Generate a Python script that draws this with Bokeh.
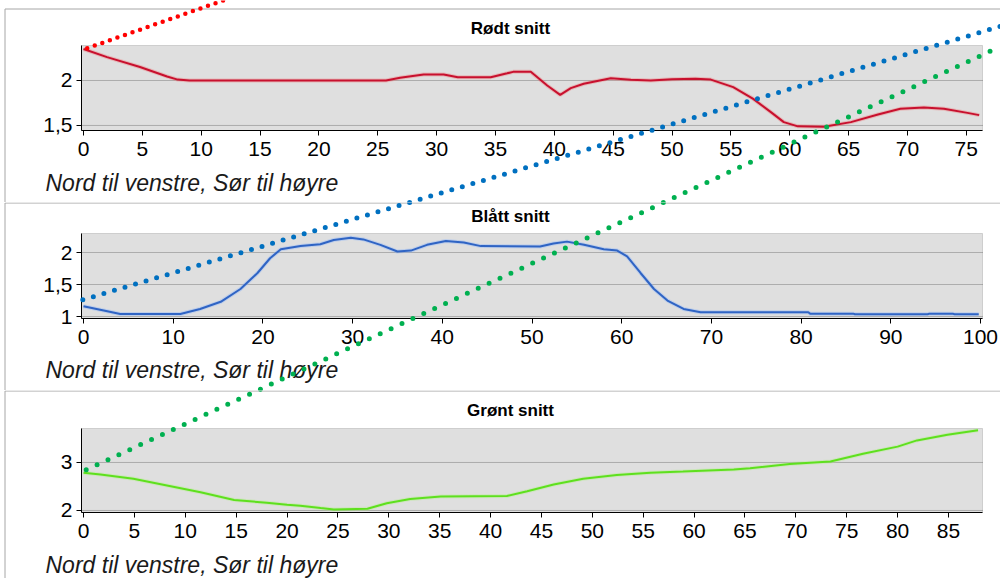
from bokeh.plotting import figure
from bokeh.layouts import column
from bokeh.models import Label, Arrow, FixedTicker, Range1d, BoxAnnotation
from bokeh.embed import file_html
from bokeh.resources import INLINE

# ---------------- data ----------------
red_x = [0, 2.0, 4.8, 7.1, 8.0, 9.0, 25.7, 26.9, 28.9, 30.6, 31.8, 34.6, 36.0, 36.5, 38.0,
         39.4, 40.5, 41.4, 42.5, 44.8, 46.5, 48.2, 50.0, 52.0, 53.3, 55.2, 56.9, 58.4, 59.5,
         60.7, 62.9, 65.2, 67.5, 69.4, 71.4, 73.1, 75.1, 76.1]
red_y = [2.35, 2.26, 2.15, 2.045, 2.01, 2.0, 2.0, 2.03, 2.067, 2.067, 2.037, 2.037, 2.08, 2.096, 2.096,
         1.944, 1.84, 1.915, 1.963, 2.026, 2.008, 2.0, 2.015, 2.02, 2.01, 1.926, 1.796, 1.648, 1.537,
         1.49, 1.485, 1.537, 1.622, 1.685, 1.70, 1.685, 1.64, 1.615]

blue_x = [0, 2.26, 4.1, 10.8, 13.0, 15.3, 17.5, 19.4, 20.8, 22.0, 24.2, 26.4, 27.9, 29.8, 31.2,
          33.1, 35.0, 36.5, 38.3, 40.4, 42.4, 44.3, 50.9, 52.4, 53.9, 55.8, 58.0, 59.5, 60.6,
          62.1, 63.6, 65.1, 66.9, 68.8, 80.8, 81.0, 85.8, 86.0, 94.1, 94.3, 96.9, 97.1, 99.8]
blue_y = [1.16, 1.094, 1.04, 1.04, 1.118, 1.23, 1.43, 1.68, 1.91, 2.05, 2.10, 2.13, 2.195, 2.23, 2.205,
          2.12, 2.015, 2.03, 2.12, 2.18, 2.155, 2.10, 2.095, 2.14, 2.17, 2.12, 2.05, 2.03, 1.94,
          1.68, 1.43, 1.25, 1.118, 1.066, 1.066, 1.045, 1.045, 1.035, 1.035, 1.045, 1.045, 1.035, 1.035]

green_x = [0, 1.67, 4.9, 8.2, 11.5, 14.8, 18.0, 20.0, 21.3, 23.3, 24.6, 27.9, 29.8, 32.1, 35.1,
           41.6, 43.6, 46.2, 49.1, 52.4, 55.7, 58.9, 63.9, 65.5, 69.4, 73.4, 76.6, 80.0, 81.9,
           84.9, 87.9]
green_y = [2.785, 2.75, 2.66, 2.52, 2.38, 2.22, 2.16, 2.12, 2.10, 2.05, 2.02, 2.035, 2.15, 2.24, 2.29,
           2.30, 2.40, 2.54, 2.66, 2.74, 2.785, 2.81, 2.854, 2.88, 2.97, 3.02, 3.18, 3.33, 3.46,
           3.58, 3.67]

titles = ["Rødt snitt", "Blått snitt", "Grønt snitt"]
axis_label = "Nord til venstre, Sør til høyre"

x1_ticks = list(range(0, 76, 5))
x2_ticks = list(range(0, 101, 10))
x3_ticks = list(range(0, 86, 5))
y1_ticks = [1.5, 2]
y1_labels = ["1,5", "2"]
y2_ticks = [1, 1.5, 2]
y2_labels = ["1", "1,5", "2"]
y3_ticks = [2, 3]
y3_labels = ["2", "3"]

# axis extents of each panel (x0, x1, y0, y1)
ext1 = (-0.17, 76.38, 1.444, 2.389)
ext2 = (-0.22, 100.22, 0.969, 2.297)
ext3 = (-0.2, 88.34, 1.958, 3.708)

# overlay dotted lines, page pixel coords: (x0, y0, x1, y1)
overlay_red = (86.7, 47.7, 222.6, 0.0)
overlay_blue = (82.3, 299.3, 1000.0, 25.8)
overlay_green = (85.7, 469.3, 1000.0, 46.0)

# ---------------- layout / styling ----------------
FONT = "Liberation Sans"
W = 1000
FIG_TOPS = [0, 202, 390]
FIG_H = [202, 188, 188]
# plot-area pixel boxes inside each figure canvas: (left, top, right, bottom)
BOXES = [(81, 45, 982, 130), (81, 31, 982, 116), (81, 38, 982, 122)]
TITLE_BASE = [28, 14, 20]
LABEL_BASE = [182, 167.5, 174]
BORDER_TOP = [8, 0, 0]


def full_range(box, ext, w, h):
    l, t, r, b = box
    x0, x1, y0, y1 = ext
    sx = (x1 - x0) / (r - l)
    sy = (y1 - y0) / (b - t)
    return (x0 - l * sx, x1 + (w - r) * sx), (y0 - (h - b) * sy, y1 + t * sy)


def panel(idx, xs, ys, color, halo, ext, xticks, yticks, ylabels):
    h = FIG_H[idx]
    top = FIG_TOPS[idx]
    xr, yr = full_range(BOXES[idx], ext, W, h)
    x0, x1, y0, y1 = ext
    p = figure(width=W, height=h, x_range=Range1d(*xr), y_range=Range1d(*yr),
               output_backend="svg", toolbar_location=None,
               min_border_left=0, min_border_right=0,
               min_border_top=0, min_border_bottom=0)
    p.background_fill_color = "white"
    p.border_fill_color = "white"
    p.outline_line_color = None
    p.xgrid.visible = False
    p.ygrid.visible = False

    p.add_layout(BoxAnnotation(left=x0, right=x1, bottom=y0, top=y1,
                               fill_color="#dfdfdf", fill_alpha=1.0,
                               line_color="#808080", line_width=1, level="underlay"))

    p.xaxis.ticker = FixedTicker(ticks=xticks)
    p.yaxis.ticker = FixedTicker(ticks=yticks)
    p.yaxis.major_label_overrides = {t: l for t, l in zip(yticks, ylabels)}
    p.xaxis.fixed_location = y0
    p.xaxis.bounds = (x0, x1)
    p.yaxis.fixed_location = x0
    p.yaxis.bounds = (y0, y1)
    for ax in (p.xaxis[0], p.yaxis[0]):
        ax.axis_line_color = "black"
        ax.major_tick_line_color = "black"
        ax.minor_tick_line_color = None
        ax.major_tick_out = 5
        ax.major_tick_in = 0
        ax.major_label_text_font = FONT
        ax.major_label_text_font_size = "21px"
        ax.major_label_text_color = "black"
    p.xaxis.major_label_standoff = 6
    p.yaxis.major_label_standoff = 4

    # dotted horizontal grid lines at the y ticks
    n = len(yticks)
    p.segment(x0=[x0] * n, y0=yticks, x1=[x1] * n, y1=yticks,
              line_color="#7a7a7a", line_dash="1 1", line_width=1)

    p.line(xs, ys, line_color=halo, line_width=4, line_alpha=0.35)
    p.line(xs, ys, line_color=color, line_width=2)

    p.add_layout(Label(x=510, y=TITLE_BASE[idx], x_units="canvas", y_units="canvas",
                       text=titles[idx], text_align="center", text_baseline="alphabetic",
                       text_font=FONT, text_font_style="bold", text_font_size="17px",
                       text_color="black"))
    p.add_layout(Label(x=45, y=LABEL_BASE[idx], x_units="canvas", y_units="canvas",
                       text=axis_label, text_align="left", text_baseline="alphabetic",
                       text_font=FONT, text_font_style="italic", text_font_size="23px",
                       text_color="#1a1a1a"))

    # panel border lines
    bt = BORDER_TOP[idx] + 0.5
    p.add_layout(Arrow(end=None, x_start=4.5, y_start=bt, x_end=W, y_end=bt,
                       start_units="canvas", end_units="canvas",
                       line_color="#a6a6a6", line_width=1))
    p.add_layout(Arrow(end=None, x_start=4.5, y_start=bt, x_end=4.5, y_end=h,
                       start_units="canvas", end_units="canvas",
                       line_color="#a6a6a6", line_width=1))

    for (ax0, ay0, ax1, ay1), c, lw, gap in ((overlay_red, "#ff0000", 4.5, 8),
                                             (overlay_blue, "#0070c0", 5, 11),
                                             (overlay_green, "#00b050", 5, 12)):
        p.add_layout(Arrow(end=None, x_start=ax0, y_start=ay0 - top,
                           x_end=ax1, y_end=ay1 - top,
                           start_units="canvas", end_units="canvas",
                           line_color=c, line_width=lw, line_dash=f"0 {gap}",
                           line_cap="round"))
    return p


p1 = panel(0, red_x, red_y, "#c8102e", "#f07070", ext1, x1_ticks, y1_ticks, y1_labels)
p2 = panel(1, blue_x, blue_y, "#2f64c4", "#80b0ff", ext2, x2_ticks, y2_ticks, y2_labels)
p3 = panel(2, green_x, green_y, "#5ee01e", "#b0f080", ext3, x3_ticks, y3_ticks, y3_labels)

layout = column(p1, p2, p3, spacing=0)
open("out.html", "w").write(file_html(layout, INLINE))
